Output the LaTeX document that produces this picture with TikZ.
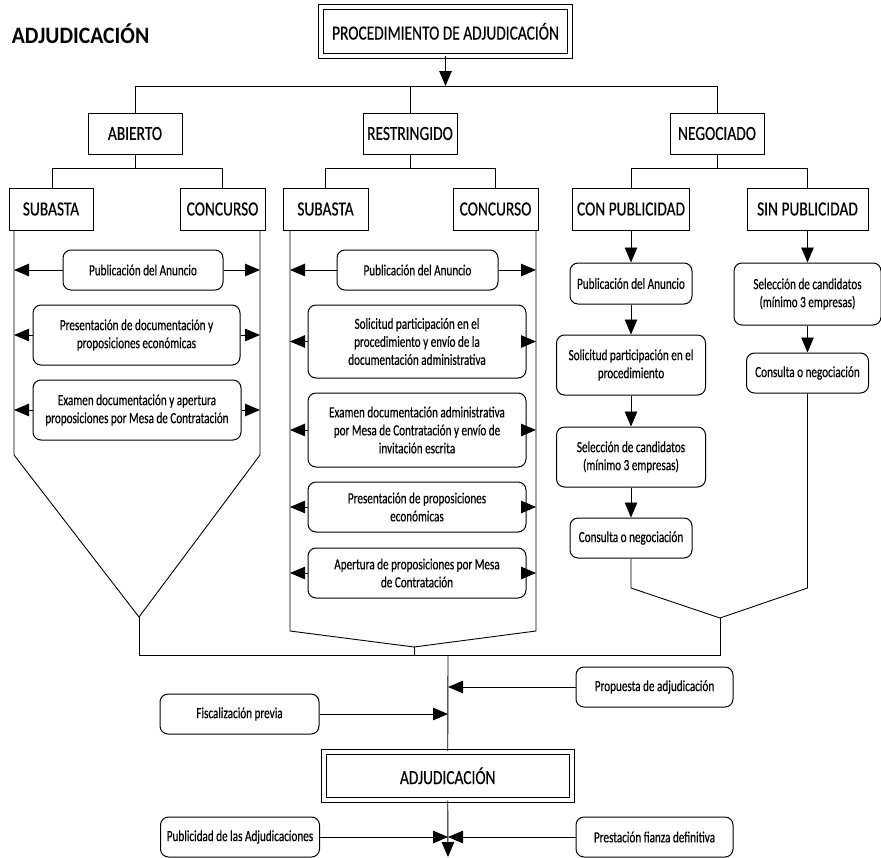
\documentclass[tikz,border=0pt]{standalone}
\usepackage{fontspec}
\setmainfont{Carlito}[FakeStretch=0.72,FakeBold=0.4]
\newfontfamily\capsfont{Carlito}[FakeStretch=0.77,FakeBold=0.4]
\newfontfamily\titlefont{Carlito}[FakeStretch=0.92]
\usetikzlibrary{arrows.meta}
\begin{document}
\begin{tikzpicture}[x=1pt,y=-1pt,line width=0.9pt,
  arr/.style={-{Triangle[length=15pt,width=12.5pt]}},
  head/.style={draw,line width=1pt,inner sep=0pt,font=\capsfont\fontsize{20}{22}\selectfont},
  frame/.style={head,double,double distance=4pt},
  stage/.style={draw,rounded corners=8pt,line width=1pt,inner sep=0pt,align=center,
                font=\fontsize{15.5}{18}\selectfont},
]
\useasboundingbox (0,0) rectangle (881,857);

% title
\node[anchor=base west,font=\titlefont\fontsize{23.5}{26}\selectfont\bfseries] (title) at (8,43) {ADJUDICACIÓN};

% top of the tree
\node[frame,minimum width=248.5pt,minimum height=48.5pt] (proc) at (445.5,31.25) {PROCEDIMIENTO DE ADJUDICACIÓN};
\coordinate (r1) at (0,86);
\coordinate (r2) at (0,168);

\node[head,minimum width=94pt,minimum height=41pt] (abierto) at (135,133.5) {ABIERTO};
\node[head,minimum width=94pt,minimum height=41pt] (restr) at (410,133.5) {RESTRINGIDO};
\node[head,minimum width=94pt,minimum height=41pt] (negoc) at (717,133.5) {NEGOCIADO};

\draw[arr] (proc.south) -- (proc.south |- r1);
\draw (abierto.north) -- (abierto.north |- r1) -- (negoc.north |- r1) -- (negoc.north);
\draw (restr.north) -- (restr.north |- r1);

% second level
\node[head,minimum width=84pt,minimum height=42pt] (absub) at (51,209) {SUBASTA};
\node[head,minimum width=85pt,minimum height=42pt] (abcon) at (222.5,209) {CONCURSO};
\node[head,minimum width=85pt,minimum height=42pt] (resub) at (325.5,209) {SUBASTA};
\node[head,minimum width=85pt,minimum height=42pt] (recon) at (495.5,209) {CONCURSO};
\node[head,minimum width=117pt,minimum height=42pt] (conpub) at (631,209) {CON PUBLICIDAD};
\node[head,minimum width=121pt,minimum height=42pt] (sinpub) at (807.5,209) {SIN PUBLICIDAD};

\draw (abierto.south) -- (abierto.south |- r2);
\draw (absub.north -| 52,0) -- (52,168) -- (abcon.north |- r2) -- (abcon.north);
\draw (restr.south) -- (restr.south |- r2);
\draw (resub.north) -- (resub.north |- r2) -- (recon.north |- r2) -- (recon.north);
\draw (negoc.south) -- (negoc.south |- r2);
\draw (conpub.north) -- (conpub.north |- r2) -- (sinpub.north |- r2) -- (sinpub.north);

% open procedure
\coordinate (abL) at (14,230);
\coordinate (abR) at (260,230);
\coordinate (abV) at (139,617);
\coordinate (base) at (0,655);
\draw (abL) -- (14,455) -- (abV) -- (260,455) -- (abR);

\node[stage,minimum width=160pt,minimum height=40pt] (ab1) at (143,270) {Publicación del Anuncio};
\node[stage,minimum width=207pt,minimum height=60pt] (ab2) at (136.5,335) {Presentación de documentación y\\proposiciones económicas};
\node[stage,minimum width=208pt,minimum height=60pt] (ab3) at (137,410) {Examen documentación y apertura\\proposiciones por Mesa de Contratación};
\foreach \n in {ab1,ab2,ab3}{
  \draw[arr] (\n.west) -- (\n.west -| abL);
  \draw[arr] (\n.east) -- (\n.east -| abR);
}

% restricted procedure
\coordinate (reL) at (290,230);
\coordinate (reR) at (536,230);
\coordinate (reV) at (414,647);
\draw (reL) -- (290,631) -- (reV) -- (536,631) -- (reR);

\node[stage,minimum width=161pt,minimum height=40pt] (re1) at (417.5,270) {Publicación del Anuncio};
\node[stage,minimum width=218pt,minimum height=73pt] (re2) at (417,341.5) {Solicitud participación en el\\procedimiento y envío de la\\documentación administrativa};
\node[stage,minimum width=218pt,minimum height=74pt] (re3) at (417,430) {Examen documentación administrativa\\por Mesa de Contratación y envío de\\invitación escrita};
\node[stage,minimum width=218pt,minimum height=50pt] (re4) at (417,507) {Presentación de proposiciones\\económicas};
\node[stage,minimum width=218pt,minimum height=50pt] (re5) at (417,573) {Apertura de proposiciones por Mesa\\de Contratación};
\foreach \n in {re1,re2,re3,re4,re5}{
  \draw[arr] (\n.west) -- (\n.west -| reL);
  \draw[arr] (\n.east) -- (\n.east -| reR);
}

% negotiated procedure
\node[stage,minimum width=122pt,minimum height=41pt] (cp1) at (631,283.5) {Publicación del Anuncio};
\node[stage,minimum width=149pt,minimum height=60pt] (cp2) at (631,365) {Solicitud participación en el\\procedimiento};
\node[stage,minimum width=149pt,minimum height=60pt] (cp3) at (631,457) {Selección de candidatos\\(mínimo 3 empresas)};
\node[stage,minimum width=122pt,minimum height=40pt] (cp4) at (631,538) {Consulta o negociación};
\node[stage,minimum width=147pt,minimum height=62pt] (sp1) at (807.5,294) {Selección de candidatos\\(mínimo 3 empresas)};
\node[stage,minimum width=122pt,minimum height=40pt] (sp2) at (807.5,373) {Consulta o negociación};

\draw[arr] (conpub.south) -- (cp1.north);
\draw[arr] (cp1.south) -- (cp2.north);
\draw[arr] (cp2.south) -- (cp3.north);
\draw[arr] (cp3.south) -- (cp4.north);
\draw[arr] (sinpub.south) -- (sp1.north);
\draw[arr] (sp1.south) -- (sp2.north);

\coordinate (neV) at (720,618);
\draw (cp4.south) -- (631,588) -- (neV) -- (807.5,588) -- (sp2.south);

% joining rail
\draw (abV) -- (abV |- base) -- (neV |- base) -- (neV);
\draw (reV) -- (reV |- base);

% award
\node[frame,minimum width=248.5pt,minimum height=48.5pt] (adj) at (447.75,775.75) {ADJUDICACIÓN};
\coordinate (join) at (448,655);
\draw (join) -- (adj.north);

\node[stage,minimum width=157pt,minimum height=40pt] (prop) at (654.5,687) {Propuesta de adjudicación};
\node[stage,minimum width=159pt,minimum height=40pt] (fisc) at (239.5,714) {Fiscalización previa};
\draw[arr] (prop.west) -- (prop.west -| join);
\draw[arr] (fisc.east) -- (fisc.east -| join);

\node[stage,minimum width=159pt,minimum height=40pt] (publ) at (240,837) {Publicidad de las Adjudicaciones};
\node[stage,minimum width=157pt,minimum height=40pt] (prest) at (654.5,837) {Prestación fianza definitiva};
\coordinate (foot) at (448,857);
\draw[arr] (adj.south) -- (foot);
\draw[arr] (publ.east) -- (publ.east -| foot);
\draw[arr] (prest.west) -- (prest.west -| foot);
\end{tikzpicture}
\end{document}
